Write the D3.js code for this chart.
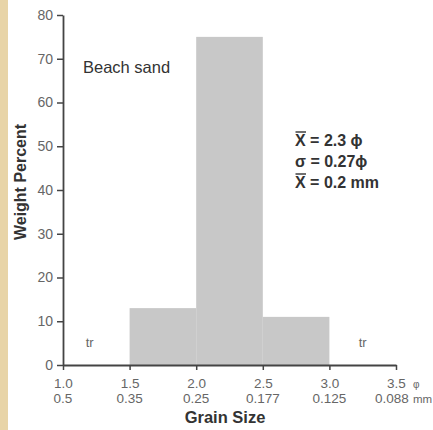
<!DOCTYPE html>
<html>
<head>
<meta charset="UTF-8">
<script src="https://cdn.jsdelivr.net/npm/d3@7"></script>
<style>
  body { margin: 0; background: #fff; overflow: hidden; }
  svg { display: block; font-family: "Liberation Sans", Arial, sans-serif; }
</style>
</head>
<body>
<svg id="chart" width="433" height="430"></svg>
<script>
// grain size classes in phi, with weight percent per class
const binStart = [1.5, 2.0, 2.5];
const binEnd = [2.0, 2.5, 3.0];
const weights = [13, 75, 11];
const phiTicks = [1.0, 1.5, 2.0, 2.5, 3.0, 3.5];
const mmLabels = ["0.5", "0.35", "0.25", "0.177", "0.125", "0.088"];
const yTicks = [0, 10, 20, 30, 40, 50, 60, 70, 80];
const traceAt = [1.17, 3.22];

const svg = d3.select("#chart");
const W = 433, H = 430;

// tan strip on the left edge
svg.append("rect").attr("x", 0).attr("y", 0).attr("width", 8).attr("height", H).attr("fill", "#e8d4a7");

const x = d3.scaleLinear().domain([1.0, 3.5]).range([63, 396]);
const y = d3.scaleLinear().domain([0, 80]).range([365, 15]);

// bars
svg.append("g")
  .selectAll("rect")
  .data(weights)
  .join("rect")
  .attr("x", (d, i) => x(binStart[i]))
  .attr("y", d => y(d))
  .attr("width", (d, i) => x(binEnd[i]) - x(binStart[i]))
  .attr("height", d => y(0) - y(d))
  .attr("fill", "#c8c8c8");

// y axis
const yAxis = svg.append("g")
  .attr("transform", `translate(${x(1.0)},0)`)
  .call(d3.axisLeft(y).tickValues(yTicks).tickSize(6).tickSizeOuter(0).tickPadding(4));
yAxis.select(".domain").attr("stroke", "#444").attr("stroke-width", 1.8);
yAxis.selectAll(".tick line").attr("stroke", "#444").attr("stroke-width", 1.5);
yAxis.selectAll(".tick text").attr("fill", "#666").attr("font-size", 14);

// x axis
const xAxis = svg.append("g")
  .attr("transform", `translate(0,${y(0)})`)
  .call(d3.axisBottom(x).tickValues(phiTicks).tickSize(5).tickSizeOuter(0).tickFormat(d3.format(".1f")));
xAxis.select(".domain").attr("stroke", "#444").attr("stroke-width", 1.8);
xAxis.selectAll(".tick line").attr("stroke", "#444").attr("stroke-width", 1.5);
xAxis.selectAll(".tick text").attr("fill", "#666").attr("font-size", 13.5).attr("dy", null).attr("y", 23);

// mm labels under phi labels
svg.append("g")
  .selectAll("text")
  .data(mmLabels)
  .join("text")
  .attr("x", (d, i) => x(phiTicks[i]) - (i === 5 ? 4 : 0))
  .attr("y", 403)
  .attr("text-anchor", "middle")
  .attr("font-size", 13.5)
  .attr("fill", "#666")
  .text(d => d);

svg.append("text").attr("x", 413).attr("y", 388).attr("font-size", 10).attr("fill", "#666").text("φ");
svg.append("text").attr("x", 413).attr("y", 403).attr("font-size", 11.5).attr("fill", "#666").text("mm");

// axis titles
svg.append("text")
  .attr("x", 225).attr("y", 423)
  .attr("text-anchor", "middle")
  .attr("font-size", 16.5).attr("font-weight", "bold").attr("fill", "#333")
  .text("Grain Size");

svg.append("text")
  .attr("transform", "translate(26,182) rotate(-90)")
  .attr("text-anchor", "middle")
  .attr("font-size", 16).attr("font-weight", "bold").attr("fill", "#333")
  .text("Weight Percent");

// annotations
svg.append("text").attr("x", 83).attr("y", 73).attr("font-size", 16.5).attr("fill", "#333").text("Beach sand");

svg.append("g")
  .selectAll("text")
  .data(traceAt)
  .join("text")
  .attr("x", d => x(d))
  .attr("y", 347)
  .attr("font-size", 13)
  .attr("fill", "#666")
  .text("tr");

const stats = ["X = 2.3 ϕ", "σ = 0.27ϕ", "X = 0.2 mm"];
const st = svg.append("g").attr("font-size", 16).attr("font-weight", "bold").attr("fill", "#333");
st.selectAll("text")
  .data(stats)
  .join("text")
  .attr("x", 295)
  .attr("y", (d, i) => 146 + i * 21)
  .text(d => d);
// bars over the X (mean)
st.selectAll("line")
  .data([0, 2])
  .join("line")
  .attr("x1", 295.5).attr("x2", 306)
  .attr("y1", i => 146 + i * 21 - 14).attr("y2", i => 146 + i * 21 - 14)
  .attr("stroke", "#333").attr("stroke-width", 1.4);
</script>
</body>
</html>
